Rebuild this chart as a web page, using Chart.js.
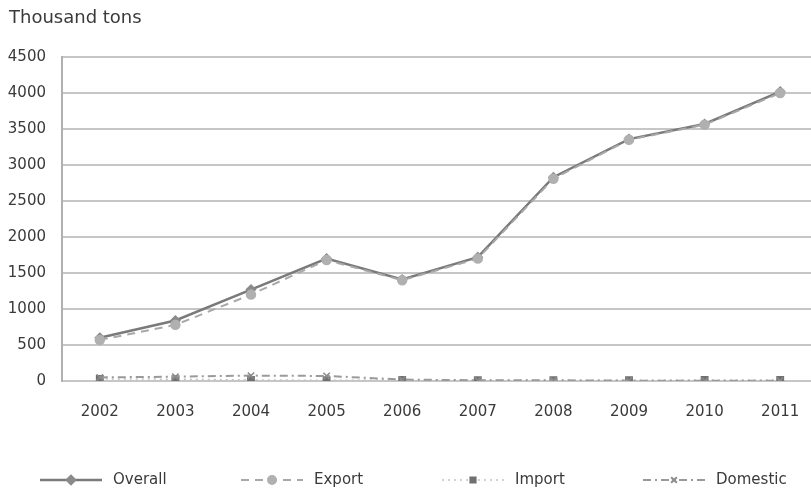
<!DOCTYPE html>
<html>
<head>
<meta charset="utf-8">
<script src="https://cdn.jsdelivr.net/npm/chart.js@4.4.1/dist/chart.umd.min.js"></script>
<style>
  html, body { margin: 0; padding: 0; background: #fff; }
  #wrap { width: 811px; height: 490px; overflow: hidden; position: relative; }
  #chart { display: block; }
</style>
</head>
<body>
<div id="wrap"><canvas id="chart" width="830" height="490"></canvas></div>
<script>
const years = ["2002", "2003", "2004", "2005", "2006", "2007", "2008", "2009", "2010", "2011"];
const overall = [600, 840, 1270, 1700, 1410, 1720, 2830, 3360, 3570, 4020];
const exportVals = [570, 780, 1200, 1680, 1400, 1700, 2810, 3350, 3560, 4000];
const importVals = [30, 25, 15, 10, 15, 10, 10, 10, 15, 15];
const domestic = [50, 60, 75, 70, 20, 10, 10, 5, 5, 5];
const yTicks = [0, 500, 1000, 1500, 2000, 2500, 3000, 3500, 4000, 4500];

const FONT = "DejaVu Sans";
const TEXT = "#3a3a3a";

const series = [
  { label: "Overall", data: overall, color: "#7a7a7a", dash: [], width: 2.5,
    point: "rectRot", radius: 4.5, fill: "#8a8a8a" },
  { label: "Export", data: exportVals, color: "#a8a8a8", dash: [8, 6], width: 2,
    point: "circle", radius: 4.5, fill: "#b0b0b0" },
  { label: "Import", data: importVals, color: "#c4c4c4", dash: [2, 4], width: 1.5,
    point: "rect", radius: 4.5, fill: "#707070" },
  { label: "Domestic", data: domestic, color: "#9a9a9a", dash: [8, 4, 2, 4], width: 2,
    point: "crossRot", radius: 4.5, fill: "#8a8a8a" }
];

// title above the axis and the legend row under the chart
const extras = {
  id: "extras",
  afterDraw(chart) {
    const ctx = chart.ctx;
    ctx.save();
    ctx.fillStyle = TEXT;
    ctx.font = "18px '" + FONT + "'";
    ctx.textBaseline = "middle";
    ctx.textAlign = "left";
    ctx.fillText("Thousand tons", 9, 18);

    const y = 480;
    series.forEach((s, i) => {
      const x0 = 40 + i * 201;
      ctx.strokeStyle = s.color;
      ctx.lineWidth = s.width;
      ctx.setLineDash(s.dash);
      ctx.beginPath();
      ctx.moveTo(x0, y);
      ctx.lineTo(x0 + 62, y);
      ctx.stroke();
      ctx.setLineDash([]);
      ctx.fillStyle = s.fill;
      ctx.strokeStyle = s.fill;
      Chart.helpers.drawPoint(ctx, {
        pointStyle: s.point, radius: 4, rotation: 0, borderWidth: 1.5
      }, x0 + 31, y);
      ctx.fillStyle = TEXT;
      ctx.font = "15px '" + FONT + "'";
      ctx.fillText(s.label, x0 + 73, y);
    });
    ctx.restore();
  }
};

new Chart(document.getElementById("chart").getContext("2d"), {
  type: "line",
  data: {
    labels: years,
    datasets: series.map((s, i) => ({
      label: s.label,
      data: s.data,
      borderColor: s.color,
      borderWidth: s.width,
      borderDash: s.dash,
      pointStyle: s.point,
      pointRadius: s.radius,
      pointBackgroundColor: s.fill,
      pointBorderColor: s.fill,
      pointBorderWidth: 1.5,
      tension: 0,
      order: 4 - i
    }))
  },
  options: {
    responsive: false,
    animation: false,
    events: [],
    layout: { padding: { top: 57, right: 12, bottom: 59, left: 0 } },
    plugins: { legend: { display: false }, tooltip: { enabled: false } },
    scales: {
      x: {
        offset: true,
        grid: { display: false, drawTicks: false },
        border: { display: false },
        ticks: { color: TEXT, font: { family: FONT, size: 15 }, padding: 22 },
        afterFit(s) { s.height = 50; }
      },
      y: {
        min: 0,
        max: 4500,
        afterBuildTicks(s) { s.ticks = yTicks.map(v => ({ value: v })); },
        grid: { color: "#c6c6c6", lineWidth: 2, drawTicks: false },
        border: { display: true, color: "#b0b0b0", width: 2 },
        ticks: {
          color: TEXT,
          font: { family: FONT, size: 15 },
          padding: 16,
          callback: v => String(v)
        },
        afterFit(s) { s.width = 62; }
      }
    }
  },
  plugins: [extras]
});
</script>
</body>
</html>
